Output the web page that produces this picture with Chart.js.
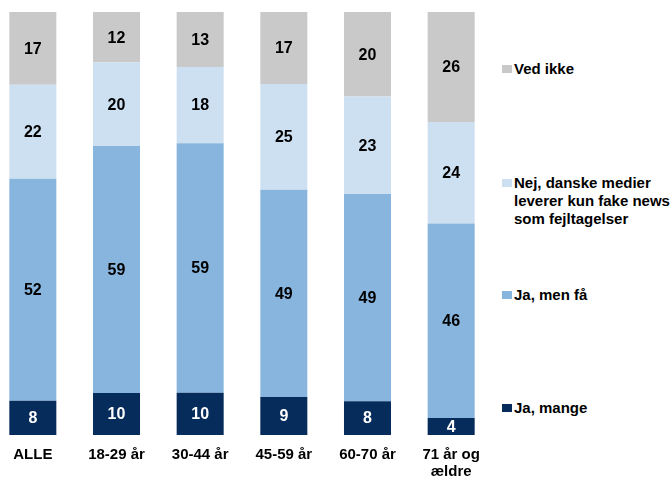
<!DOCTYPE html>
<html>
<head>
<meta charset="utf-8">
<script src="https://cdn.jsdelivr.net/npm/chart.js@4"></script>
<style>
  html, body { margin: 0; padding: 0; background: #fff; width: 671px; height: 477px; overflow: hidden; }
  #wrap { position: absolute; left: -9px; top: 0; width: 502px; height: 477px; }
  #legend { position: absolute; left: 502px; top: 0; width: 169px; height: 477px;
    font-family: 'Liberation Sans', Arial, sans-serif; font-weight: bold; font-size: 15px; color: #000; }
  .item { position: absolute; left: 0; display: flex; align-items: flex-start; line-height: 18px; white-space: nowrap; }
  .sw { width: 10px; height: 8px; margin-top: 5px; margin-right: 2px; flex: none; }
</style>
</head>
<body>
<div id="wrap"><canvas id="c"></canvas></div>
<div id="legend"></div>
<script>
const categories = ['ALLE', '18-29 år', '30-44 år', '45-59 år', '60-70 år', ['71 år og', 'ældre']];
const jaMange = [8, 10, 10, 9, 8, 4];
const jaMenFaa = [52, 59, 59, 49, 49, 46];
const nejDanske = [22, 20, 18, 25, 23, 24];
const vedIkke = [17, 12, 13, 17, 20, 26];
const seriesNames = ['Ja, mange', 'Ja, men få', 'Nej, danske medier leverer kun fake news som fejltagelser', 'Ved ikke'];
const legendLines = [['Ja, mange'], ['Ja, men få'], ['Nej, danske medier', 'leverer kun fake news', 'som fejltagelser'], ['Ved ikke']];
const colors = ['#062c5c', '#88b5dd', '#cde0f1', '#c9c9c9'];
const labelColors = ['#ffffff', '#000000', '#000000', '#000000'];

const raw = [jaMange, jaMenFaa, nejDanske, vedIkke];
const totals = categories.map((_, i) => raw.reduce((s, a) => s + a[i], 0));
const FONT = "'Liberation Sans', Arial, sans-serif";

const valueLabels = {
  id: 'valueLabels',
  afterDatasetsDraw(chart) {
    const ctx = chart.ctx;
    ctx.save();
    ctx.font = 'bold 16px ' + FONT;
    ctx.textAlign = 'center';
    ctx.textBaseline = 'middle';
    chart.data.datasets.forEach((ds, di) => {
      const meta = chart.getDatasetMeta(di);
      meta.data.forEach((bar, i) => {
        const y = (bar.y + bar.base) / 2;
        ctx.fillStyle = labelColors[di];
        ctx.fillText(String(raw[di][i]), bar.x, y + 1);
      });
    });
    ctx.restore();
  }
};

new Chart(document.getElementById('c'), {
  type: 'bar',
  data: {
    labels: categories,
    datasets: raw.map((arr, di) => ({
      label: seriesNames[di],
      data: arr.map((v, i) => v / totals[i] * 100),
      backgroundColor: colors[di],
      borderWidth: 0,
      barPercentage: 0.562,
      categoryPercentage: 1
    }))
  },
  options: {
    responsive: true,
    maintainAspectRatio: false,
    animation: false,
    layout: { padding: { top: 12, left: 0, right: 0, bottom: 0 } },
    plugins: { legend: { display: false }, tooltip: { enabled: false } },
    scales: {
      x: {
        stacked: true,
        grid: { display: false, drawTicks: false },
        border: { display: false },
        ticks: { color: '#000', font: { family: FONT, weight: 'bold', size: 15, lineHeight: 1.15 }, padding: 11, maxRotation: 0, autoSkip: false },
        afterFit(scale) { scale.height = 42; }
      },
      y: {
        stacked: true,
        display: false,
        min: 0, max: 100
      }
    }
  },
  plugins: [valueLabels]
});

// HTML legend built from series
const legendTops = [399, 286, 174, 60];
const lg = document.getElementById('legend');
legendLines.forEach((lines, di) => {
  const item = document.createElement('div');
  item.className = 'item';
  item.style.top = legendTops[di] + 'px';
  const sw = document.createElement('div');
  sw.className = 'sw';
  sw.style.background = colors[di];
  const tx = document.createElement('div');
  tx.innerHTML = lines.join('<br>');
  item.appendChild(sw);
  item.appendChild(tx);
  lg.appendChild(item);
});
</script>
</body>
</html>
